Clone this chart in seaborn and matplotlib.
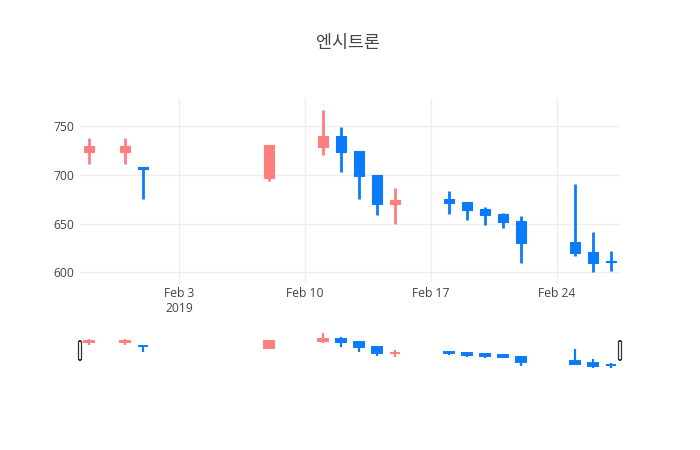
import matplotlib
matplotlib.use("Agg")
import matplotlib.pyplot as plt
import seaborn as sns
import pandas as pd
import numpy as np
from matplotlib.patches import FancyBboxPatch

# 엔시트론 일봉 데이터 (2019년 1~2월)
dates = ["2019-01-29", "2019-01-31", "2019-02-01", "2019-02-08", "2019-02-11",
         "2019-02-12", "2019-02-13", "2019-02-14", "2019-02-15", "2019-02-18",
         "2019-02-19", "2019-02-20", "2019-02-21", "2019-02-22", "2019-02-25",
         "2019-02-26", "2019-02-27"]
open_ = [724, 724, 708, 697, 729, 740, 725, 700, 670, 675, 672, 665, 660, 653, 631, 621, 612]
high = [738, 738, 708, 731, 767, 749, 725, 700, 687, 684, 672, 667, 661, 658, 691, 641, 622]
low = [711, 711, 675, 694, 720, 703, 675, 659, 650, 660, 654, 649, 646, 610, 617, 600, 601]
close = [730, 730, 706, 731, 740, 724, 699, 670, 674, 671, 664, 659, 652, 630, 620, 610, 611]

tick_dates = ["2019-02-03", "2019-02-10", "2019-02-17", "2019-02-24"]
tick_labels = ["Feb 3\n2019", "Feb 10", "Feb 17", "Feb 24"]
y_ticks = [600, 650, 700, 750]

UP = "#ff7f7f"
DOWN = "#0a7bfb"
TXT = "#444444"

sns.set_theme(style="white")
plt.rcParams["font.family"] = ["Open Sans", "Noto Sans CJK KR", "DejaVu Sans"]

df = pd.DataFrame({"date": pd.to_datetime(dates), "open": open_, "high": high,
                   "low": low, "close": close})
df["color"] = np.where(df["close"] >= df["open"], UP, DOWN)

x0 = pd.Timestamp("2019-01-28 12:00")
x1 = pd.Timestamp("2019-02-27 12:00")
ylim = (589, 779)

W, H = 700, 450
fig = plt.figure(figsize=(7, 4.5), dpi=100)
ax = fig.add_axes([80 / W, 1 - 283 / H, 540 / W, 185 / H])
sl = fig.add_axes([80 / W, 1 - 370 / H, 540 / W, 39 / H])


def candles(a, lw, edge):
    a.vlines(df["date"], df["low"], df["high"], colors=df["color"], linewidth=lw, zorder=2)
    body = (df["close"] - df["open"]).abs().clip(lower=0.6)
    a.bar(df["date"], body, bottom=df[["open", "close"]].min(axis=1), width=0.55,
          color=df["color"], edgecolor=df["color"], linewidth=edge, zorder=3)
    a.set_xlim(x0, x1)
    a.set_ylim(*ylim)
    for s in a.spines.values():
        s.set_visible(False)


candles(ax, 2, 0.8)
ax.set_yticks(y_ticks)
ax.set_xticks(pd.to_datetime(tick_dates))
ax.set_xticklabels(tick_labels)
ax.grid(True, color="#eeeeee", linewidth=1)
ax.set_axisbelow(True)
ax.tick_params(axis="both", length=0, labelsize=8.7, colors=TXT)
ax.tick_params(axis="y", pad=4)
ax.tick_params(axis="x", pad=3)

candles(sl, 1.6, 1.4)
sl.set_xticks([])
sl.set_yticks([])
sl.grid(False)

# rangeslider handles
for hx in (0, 1):
    sl.add_patch(FancyBboxPatch((hx - 1.5 / 540, 0.26), 3 / 540, 0.48,
                                boxstyle="round,pad=0,rounding_size=0.004",
                                transform=sl.transAxes, clip_on=False,
                                facecolor="white", edgecolor="#333333",
                                linewidth=0.9, zorder=5))

fig.text(348 / W, 1 - 43 / H, "엔시트론", ha="center", va="center", fontsize=12.5,
         color=TXT, family=["Noto Sans CJK KR", "DejaVu Sans"])

fig.savefig("out.png", dpi=100, facecolor="white")
